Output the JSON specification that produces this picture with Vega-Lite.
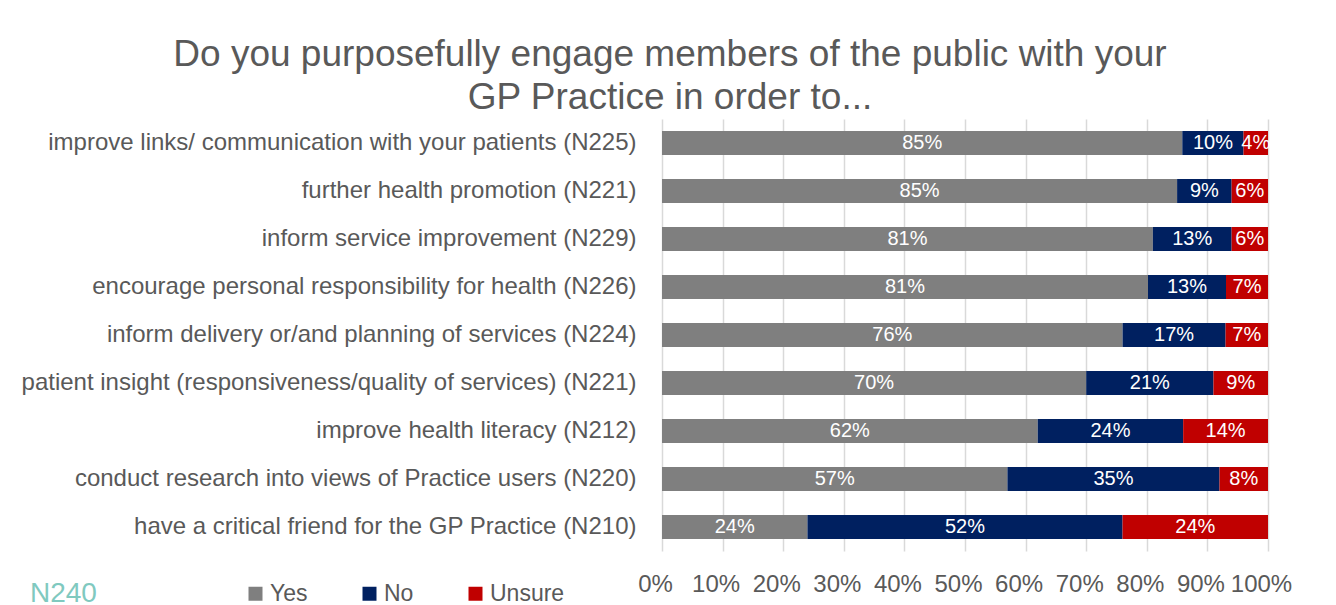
{
  "$schema": "https://vega.github.io/schema/vega-lite/v6.json",
  "autosize": "none",
  "width": 606,
  "height": 432,
  "padding": {"left": 662, "top": 119, "right": 68, "bottom": 54},
  "background": "white",
  "config": {
    "font": "Liberation Sans",
    "view": {"stroke": null}
  },
  "title": {
    "text": ["Do you purposefully engage members of the public with your", "GP Practice in order to..."],
    "fontSize": 37,
    "fontWeight": "normal",
    "color": "#595959",
    "lineHeight": 43,
    "anchor": "middle",
    "dx": -295,
    "offset": 2
  },
  "data": {
    "values": [
      {"q": "improve links/ communication with your patients (N225)", "r": "Yes", "v": 0.85, "o": 1},
      {"q": "improve links/ communication with your patients (N225)", "r": "No", "v": 0.10, "o": 2},
      {"q": "improve links/ communication with your patients (N225)", "r": "Unsure", "v": 0.04, "o": 3},
      {"q": "further health promotion (N221)", "r": "Yes", "v": 0.85, "o": 1},
      {"q": "further health promotion (N221)", "r": "No", "v": 0.09, "o": 2},
      {"q": "further health promotion (N221)", "r": "Unsure", "v": 0.06, "o": 3},
      {"q": "inform service improvement (N229)", "r": "Yes", "v": 0.81, "o": 1},
      {"q": "inform service improvement (N229)", "r": "No", "v": 0.13, "o": 2},
      {"q": "inform service improvement (N229)", "r": "Unsure", "v": 0.06, "o": 3},
      {"q": "encourage personal responsibility for health (N226)", "r": "Yes", "v": 0.81, "o": 1},
      {"q": "encourage personal responsibility for health (N226)", "r": "No", "v": 0.13, "o": 2},
      {"q": "encourage personal responsibility for health (N226)", "r": "Unsure", "v": 0.07, "o": 3},
      {"q": "inform delivery or/and planning of services (N224)", "r": "Yes", "v": 0.76, "o": 1},
      {"q": "inform delivery or/and planning of services (N224)", "r": "No", "v": 0.17, "o": 2},
      {"q": "inform delivery or/and planning of services (N224)", "r": "Unsure", "v": 0.07, "o": 3},
      {"q": "patient insight (responsiveness/quality of services) (N221)", "r": "Yes", "v": 0.70, "o": 1},
      {"q": "patient insight (responsiveness/quality of services) (N221)", "r": "No", "v": 0.21, "o": 2},
      {"q": "patient insight (responsiveness/quality of services) (N221)", "r": "Unsure", "v": 0.09, "o": 3},
      {"q": "improve health literacy (N212)", "r": "Yes", "v": 0.62, "o": 1},
      {"q": "improve health literacy (N212)", "r": "No", "v": 0.24, "o": 2},
      {"q": "improve health literacy (N212)", "r": "Unsure", "v": 0.14, "o": 3},
      {"q": "conduct research into views of Practice users (N220)", "r": "Yes", "v": 0.57, "o": 1},
      {"q": "conduct research into views of Practice users (N220)", "r": "No", "v": 0.35, "o": 2},
      {"q": "conduct research into views of Practice users (N220)", "r": "Unsure", "v": 0.08, "o": 3},
      {"q": "have a critical friend for the GP Practice (N210)", "r": "Yes", "v": 0.24, "o": 1},
      {"q": "have a critical friend for the GP Practice (N210)", "r": "No", "v": 0.52, "o": 2},
      {"q": "have a critical friend for the GP Practice (N210)", "r": "Unsure", "v": 0.24, "o": 3}
    ]
  },
  "encoding": {
    "y": {
      "field": "q",
      "type": "nominal",
      "sort": null,
      "scale": {"paddingInner": 0.5, "paddingOuter": 0.25},
      "axis": {
        "title": null,
        "domain": false,
        "ticks": false,
        "labelFontSize": 24,
        "labelColor": "#595959",
        "labelPadding": 26,
        "labelLimit": 700
      }
    },
    "x": {
      "field": "v",
      "type": "quantitative",
      "stack": "normalize",
      "scale": {"domain": [0, 1]},
      "axis": {
        "title": null,
        "format": "%",
        "values": [0, 0.1, 0.2, 0.3, 0.4, 0.5, 0.6, 0.7, 0.8, 0.9, 1],
        "labelOverlap": false,
        "labelBound": false,
        "labelFlush": false,
        "labelOffset": -7,
        "domain": false,
        "ticks": false,
        "labelFontSize": 24,
        "labelColor": "#595959",
        "labelPadding": 21,
        "gridColor": "#d9d9d9",
        "gridWidth": 1.5
      }
    },
    "order": {"field": "o", "type": "quantitative"}
  },
  "layer": [
    {
      "mark": {"type": "bar"},
      "encoding": {
        "color": {
          "field": "r",
          "type": "nominal",
          "sort": ["Yes", "No", "Unsure"],
          "scale": {"domain": ["Yes", "No", "Unsure"], "range": ["#7f7f7f", "#002060", "#c00000"]},
          "legend": {
            "title": "N240",
            "titleOrient": "left",
            "titleAnchor": "middle",
            "titleBaseline": "middle",
            "titleFontSize": 28,
            "titleFontWeight": "normal",
            "titleColor": "#80c9bf",
            "titlePadding": 147,
            "orient": "none",
            "direction": "horizontal",
            "legendX": -632,
            "legendY": 463,
            "symbolType": "square",
            "symbolSize": 196,
            "symbolStrokeWidth": 0,
            "labelFontSize": 23,
            "labelColor": "#595959",
            "labelOffset": 3,
            "columnPadding": 50
          }
        }
      }
    },
    {
      "mark": {"type": "text", "color": "white", "fontSize": 20},
      "encoding": {
        "x": {"field": "v", "type": "quantitative", "stack": "normalize", "bandPosition": 0.5},
        "text": {"field": "v", "type": "quantitative", "format": ".0%"}
      }
    }
  ]
}
